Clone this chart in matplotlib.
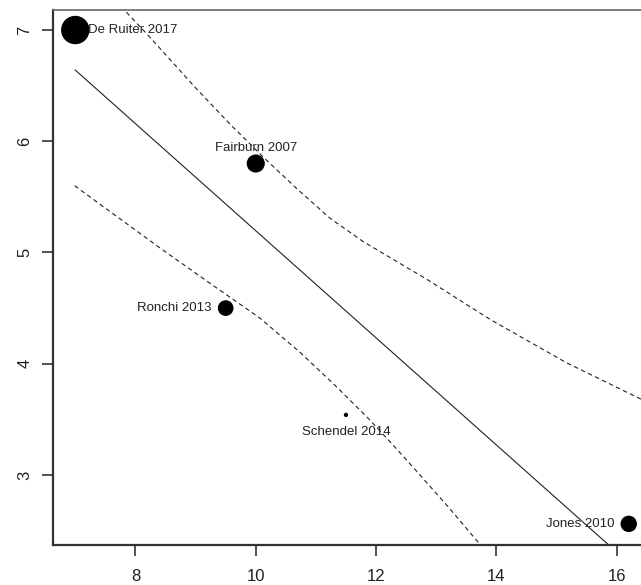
import matplotlib.pyplot as plt

# studies
studies = ['De Ruiter 2017', 'Fairburn 2007', 'Ronchi 2013', 'Schendel 2014', 'Jones 2010']
xi = [7.0, 10.0, 9.5, 11.5, 16.2]
yi = [7.0, 5.8, 4.5, 3.54, 2.56]
weights = [50.4, 19.3, 14.1, 0.6, 15.6]   # % weight -> bubble area
label_pos = ['right', 'top', 'left', 'bottom', 'left']

# fitted meta-regression line
fit_x = [7.0, 16.2]
fit_y = [6.64, 2.21]

# confidence bands
upper_x = [7.85, 8.25, 9.0, 9.58, 10.12, 10.69, 11.23, 11.78, 12.34, 12.84, 13.89, 15.16, 16.37, 16.6]
upper_y = [7.16, 6.93, 6.48, 6.15, 5.86, 5.57, 5.31, 5.10, 4.92, 4.76, 4.40, 4.01, 3.69, 3.63]
lower_x = [6.99, 8.41, 9.3, 10.07, 10.74, 11.29, 11.85, 12.23, 12.68, 13.22, 13.72]
lower_y = [5.60, 5.04, 4.70, 4.41, 4.10, 3.82, 3.52, 3.30, 3.03, 2.70, 2.38]

plt.rcParams['font.family'] = ['Liberation Sans', 'DejaVu Sans']

fig = plt.figure(figsize=(6.41, 5.85), dpi=100)
ax = fig.add_axes([53 / 641, 40 / 585, 598 / 641, 535 / 585])

ax.plot(fit_x, fit_y, color='#222222', lw=0.8)
ax.plot(upper_x, upper_y, color='#222222', lw=0.8, ls=(0, (4, 3)))
ax.plot(lower_x, lower_y, color='#222222', lw=0.8, ls=(0, (4, 3)))

ax.scatter(xi, yi, s=[w * 7.5 for w in weights], color='black', zorder=3)

offsets = {'right': (9, 0, 'left', 'center'),
           'left': (-10, 0, 'right', 'center'),
           'top': (0, 11, 'center', 'center'),
           'bottom': (0, -12, 'center', 'center')}
for name, x, y, p in zip(studies, xi, yi, label_pos):
    dx, dy, ha, va = offsets[p]
    ax.annotate(name, (x, y), xytext=(dx, dy), textcoords='offset points',
                ha=ha, va=va, fontsize=9.5, color='#222222')

ax.set_xlim(6.63, 16.57)
ax.set_ylim(2.37, 7.18)
ax.set_xticks([8, 10, 12, 14, 16])
ax.set_yticks([3, 4, 5, 6, 7])
ax.tick_params(axis='both', length=8, width=1.2, color='#333333',
               labelsize=12, labelcolor='#222222')
ax.tick_params(axis='x', pad=9)
ax.tick_params(axis='y', pad=7)
for lab in ax.get_yticklabels():
    lab.set_rotation(90)
    lab.set_va('center')

for side in ['left', 'bottom']:
    ax.spines[side].set_linewidth(1.6)
    ax.spines[side].set_color('#333333')
ax.spines['top'].set_linewidth(1.2)
ax.spines['top'].set_color('#666666')
ax.spines['right'].set_visible(False)

fig.savefig('out.png', dpi=100)
